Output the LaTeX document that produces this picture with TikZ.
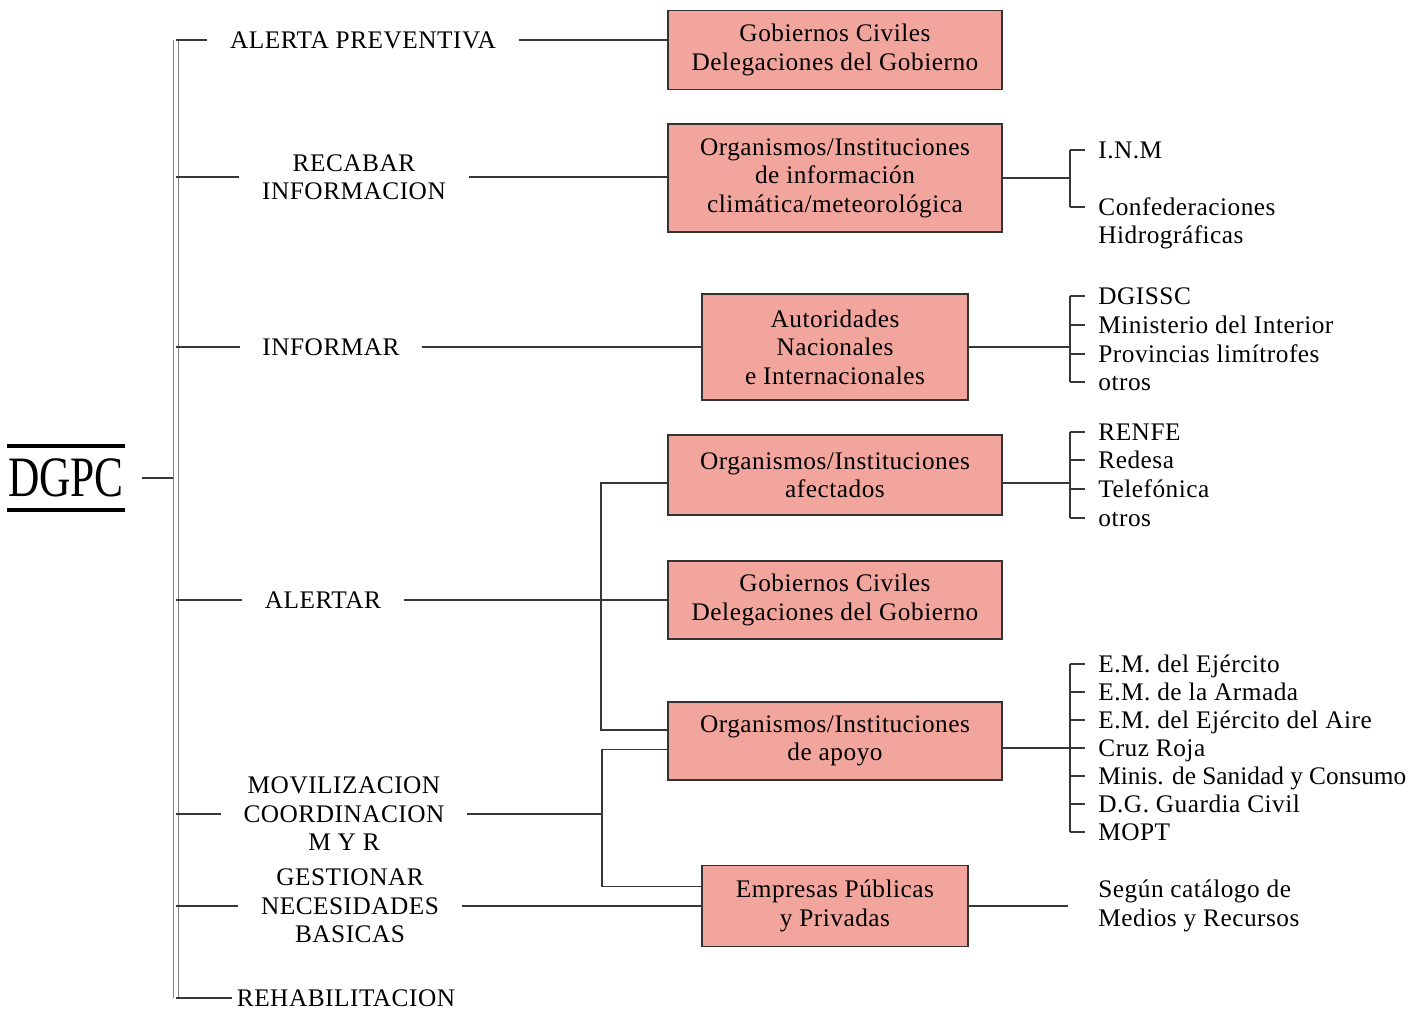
\documentclass[tikz,border=0pt]{standalone}
\usepackage{fontspec}
\setmainfont{Liberation Serif}
\newfontfamily\spacedfont[LetterSpace=2.0]{Liberation Serif}
\usepackage{graphicx}
\usepackage{tikz}
\usetikzlibrary{calc}
\definecolor{boxred}{RGB}{242,165,157}
\definecolor{linegray}{RGB}{55,55,55}
\newcommand{\chartfont}{\spacedfont\fontsize{14.4}{16.2}\selectfont}
\tikzset{
  %---------------------------------------%
  %  Boxes: bodies reached by the DGPC    %
  %---------------------------------------%
  % Wide box
  box_wide/.style={
    rectangle,
    align=center,
    draw=black!80,
    line width=0.8pt,
    fill=boxred,
    minimum width=6.68cm,
    minimum height=1.58cm,
    font=\chartfont
  },
  % Narrow box
  box_narrow/.style={
    box_wide,
    minimum width=5.32cm
  },
  %----------------%
  %     Labels     %
  %----------------%
  % Tasks hanging from the spine
  task/.style={
    align=center,
    inner sep=0pt,
    outer xsep=13pt,
    font=\chartfont
  },
  % Entries of the right-hand lists
  entry/.style={
    anchor=west,
    inner ysep=0pt,
    inner xsep=7.4pt,
    text height=9.5pt,
    text depth=0pt,
    font=\chartfont
  },
  %----------------%
  %     Lines      %
  %----------------%
  line/.style={draw=linegray,line width=0.7pt},
  spine/.style={draw=gray,line width=0.6pt,double=white,double distance=1.8pt},
}

\begin{document}
\begin{tikzpicture}[x=0.2mm, y=-0.2mm]
    \useasboundingbox (0,0) rectangle (1418,1009);

    %----------%
    %   DGPC   %
    %----------%
    \node (dgpc) [inner sep=0pt, minimum width=2.34cm, minimum height=1.28cm,
      font=\fontsize{32.5}{33}\selectfont] at (66, 478) {\scalebox{0.76}[1]{DGPC}};
    \draw [line width=2.4pt] (dgpc.north west) -- (dgpc.north east);
    \draw [line width=2.4pt] (dgpc.south west) -- (dgpc.south east);

    % Spine
    \coordinate (spine_top) at (176, 40);
    \coordinate (spine_bot) at (176, 998);

    %-----------%
    %   Tasks   %
    %-----------%
    \node (t_prev) [task] at (363, 40) {ALERTA PREVENTIVA};
    \node (t_recabar) [task] at (354, 177) {RECABAR\\INFORMACION};
    \node (t_informar) [task] at (331, 347) {INFORMAR};
    \node (t_alertar) [task] at (323, 600) {ALERTAR};
    \node (t_moviliz) [task] at (344, 814) {MOVILIZACION\\COORDINACION\\M Y R};
    \node (t_gestionar) [task] at (350, 906) {GESTIONAR\\NECESIDADES\\BASICAS};
    \node (t_rehab) [task, outer xsep=3pt] at (346, 998) {REHABILITACION};

    %-----------%
    %   Boxes   %
    %-----------%
    \node (gob_prev) [box_wide] at (835, 50) {Gobiernos Civiles\\Delegaciones del Gobierno};
    \node (org_clim) [box_wide, minimum height=2.16cm] at (835, 178) {Organismos/Instituciones\\de información\\climática/meteorológica};
    \node (aut_nac) [box_narrow, minimum height=2.12cm] at (835, 347) {Autoridades\\Nacionales\\e Internacionales};
    \node (org_afec) [box_wide, minimum height=1.6cm] at (835, 475) {Organismos/Instituciones\\afectados};
    \node (gob_alert) [box_wide, minimum height=1.56cm] at (835, 600) {Gobiernos Civiles\\Delegaciones del Gobierno};
    \node (org_apoyo) [box_wide, minimum height=1.56cm] at (835, 741) {Organismos/Instituciones\\de apoyo};
    \node (empresas) [box_narrow, minimum height=1.62cm] at (835, 906) {Empresas Públicas\\y Privadas};

    %-----------%
    %   Lists   %
    %-----------%
    % Climate bodies
    \node (inm) [entry] at (1085, 150) {I.N.M};
    \node (confed) [entry] at (1085, 207) {Confederaciones};
    \node (hidro) [entry] at (1085, 235) {Hidrográficas};
    % National and international authorities
    \node (dgissc) [entry] at (1085, 296) {DGISSC};
    \node (minint) [entry] at (1085, 325) {Ministerio del Interior};
    \node (provlim) [entry] at (1085, 354) {Provincias limítrofes};
    \node (otros_a) [entry] at (1085, 382) {otros};
    % Affected bodies
    \node (renfe) [entry] at (1085, 432) {RENFE};
    \node (redesa) [entry] at (1085, 460) {Redesa};
    \node (telef) [entry] at (1085, 489) {Telefónica};
    \node (otros_b) [entry] at (1085, 518) {otros};
    % Support bodies
    \node (em_ej) [entry] at (1085, 664) {E.M. del Ejército};
    \node (em_arm) [entry] at (1085, 692) {E.M. de la Armada};
    \node (em_aire) [entry] at (1085, 720) {E.M. del Ejército del Aire};
    \node (cruz) [entry] at (1085, 748) {Cruz Roja};
    \node (sanidad) [entry, font=\rmfamily\fontsize{14.4}{16.2}\selectfont] at (1085, 776) {Minis. de Sanidad y Consumo};
    \node (gcivil) [entry] at (1085, 804) {D.G. Guardia Civil};
    \node (mopt) [entry] at (1085, 832) {MOPT};
    % Public and private firms
    \node (segun) [anchor=west, inner sep=0pt, align=left, font=\chartfont]
      at (1098, 906) {Según catálogo de\\Medios y Recursos};

    %-----------%
    %   Lines   %
    %-----------%
    % DGPC --> spine
    \draw [line, shorten <=10pt] (dgpc.east) -- (dgpc.east -| spine_top);
    \draw [spine] (spine_top) -- (spine_bot);

    % Spine --> tasks
    \draw [line] (spine_top) -- (t_prev.west);
    \foreach \t in {t_recabar, t_informar, t_alertar, t_moviliz, t_gestionar}
      \draw [line] (\t.west -| spine_top) -- (\t.west);
    \draw [line] (spine_bot) -- (t_rehab.west);

    % Tasks --> boxes
    \draw [line] (t_prev.east) -- (t_prev.east -| gob_prev.west);
    \draw [line] (t_recabar.east) -- (t_recabar.east -| org_clim.west);
    \draw [line] (t_informar.east) -- (aut_nac.west);
    \draw [line] (t_alertar.east) -- (gob_alert.west);
    \draw [line] (t_gestionar.east) -- (empresas.west);

    % ALERTAR bracket
    \coordinate (brk_alert) at (601, 600);
    \draw [line] ([yshift=-4.5pt]org_afec.west) -| (brk_alert) |- ([yshift=6.2pt]org_apoyo.west);

    % MOVILIZACION bracket
    \coordinate (brk_movil) at (602, 814);
    \draw [line] (t_moviliz.east) -- (brk_movil);
    \draw [line] ([yshift=-5pt]org_apoyo.west) -| (brk_movil) |- ([yshift=11.3pt]empresas.west);

    % Boxes --> lists
    \coordinate (brk_clim) at (1070, 178);
    \draw [line] (org_clim.east) -- (brk_clim);
    \draw [line] (inm.west -| brk_clim) -- (confed.west -| brk_clim);
    \foreach \n in {inm, confed}
      \draw [line] (\n.west -| brk_clim) -- (\n.west);

    \coordinate (brk_aut) at (1070, 347);
    \draw [line] (aut_nac.east) -- (brk_aut);
    \draw [line] (dgissc.west -| brk_aut) -- (otros_a.west -| brk_aut);
    \foreach \n in {dgissc, minint, provlim, otros_a}
      \draw [line] (\n.west -| brk_aut) -- (\n.west);

    \coordinate (brk_afec) at (1070, 483);
    \draw [line] (org_afec.east |- brk_afec) -- (brk_afec);
    \draw [line] (renfe.west -| brk_afec) -- (otros_b.west -| brk_afec);
    \foreach \n in {renfe, redesa, telef, otros_b}
      \draw [line] (\n.west -| brk_afec) -- (\n.west);

    \coordinate (brk_apoyo) at (1070, 748);
    \draw [line] (org_apoyo.east |- brk_apoyo) -- (brk_apoyo);
    \draw [line] (em_ej.west -| brk_apoyo) -- (mopt.west -| brk_apoyo);
    \foreach \n in {em_ej, em_arm, em_aire, cruz, sanidad, gcivil, mopt}
      \draw [line] (\n.west -| brk_apoyo) -- (\n.west);

    % Firms --> catalogue
    \draw [line, shorten >=17pt] (empresas.east) -- (segun.west);
\end{tikzpicture}
\end{document}
